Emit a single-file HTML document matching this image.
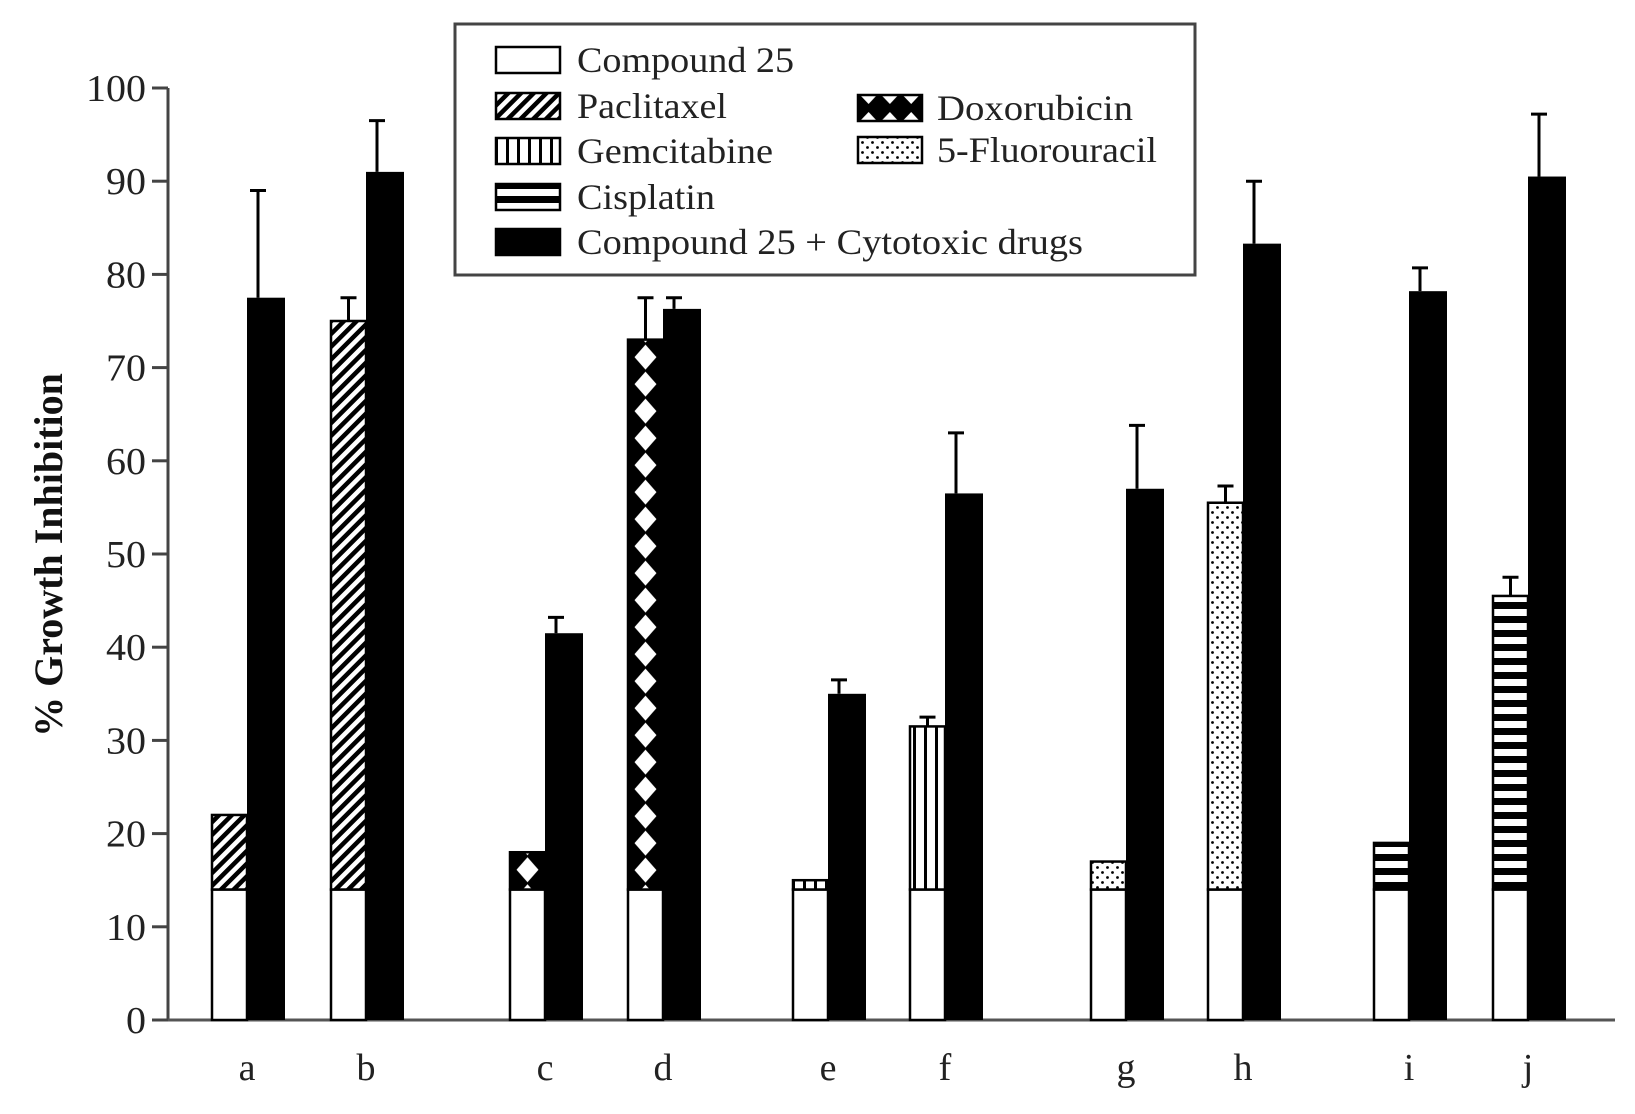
<!DOCTYPE html>
<html><head><meta charset="utf-8"><style>
html,body{margin:0;padding:0;background:#fff;}
svg{display:block;font-family:"Liberation Serif",serif;}
</style></head><body>
<svg id="chart" width="1635" height="1114" viewBox="0 0 1635 1114">
<defs id="defs">
<pattern id="pDiag" patternUnits="userSpaceOnUse" width="9" height="9" patternTransform="rotate(45)"><rect width="9" height="9" fill="#fff"/><rect width="4.5" height="9" fill="#000"/></pattern>
<pattern id="pVert" patternUnits="userSpaceOnUse" width="11" height="10"><rect width="11" height="10" fill="#fff"/><rect x="0" width="3" height="10" fill="#000"/></pattern>
<pattern id="pHorz" patternUnits="userSpaceOnUse" width="10" height="14"><rect width="10" height="14" fill="#fff"/><rect y="0" width="10" height="7" fill="#000"/></pattern>
<pattern id="pDots" patternUnits="userSpaceOnUse" width="10" height="10"><rect width="10" height="10" fill="#fff"/><circle cx="2.5" cy="2.5" r="1.4" fill="#000"/><circle cx="7.5" cy="7.5" r="1.4" fill="#000"/></pattern>
<pattern id="pDiamLeg" patternUnits="userSpaceOnUse" x="858" y="0" width="21.3" height="26"><rect width="22" height="26" fill="#000"/><path d="M10.6 8 L19 17 L10.6 26 L2 17 Z" fill="#fff"/></pattern>
</defs>
<g id="axes"></g>
<g id="bars"></g>
<g id="legend"></g>
</svg>
<script>
const categories = ["a","b","c","d","e","f","g","h","i","j"];
const compound25 = [14,14,14,14,14,14,14,14,14,14];
const drugTotal = [22,75,18,73,15,31.5,17,55.5,19,45.5];
const drugErr = [null,77.5,null,77.5,null,32.5,null,57.3,null,47.5];
const drugType = ["pDiag","pDiag","pDiam","pDiam","pVert","pVert","pDots","pDots","pHorz","pHorz"];
const combo = [77.5,91,41.5,76.3,35,56.5,57,83.3,78.2,90.5];
const comboErr = [89,96.5,43.2,77.5,36.5,63,63.8,90,80.7,97.2];
const yTicks = [0,10,20,30,40,50,60,70,80,90,100];
const groupCenters = [247,366,545,663,828,945,1126,1243,1409,1528];

const NS="http://www.w3.org/2000/svg";
const Y0=1020, Y100=88;
function y(v){return Y0-(Y0-Y100)*v/100;}
function mk(tag,attrs,parent){const e=document.createElementNS(NS,tag);for(const k in attrs)e.setAttribute(k,attrs[k]);parent.appendChild(e);return e;}
const axes=document.getElementById('axes'), bars=document.getElementById('bars'), lg=document.getElementById('legend'), defs=document.getElementById('defs');

const yAxis=mk('line',{x1:168,y1:y(100),x2:168,y2:Y0,stroke:'#444','stroke-width':3},axes);


const xAxis=mk('line',{x1:152,y1:Y0,x2:1615,y2:Y0,stroke:'#555','stroke-width':3},axes);


yTicks.forEach(t=>{
  const tk=mk('line',{x1:152,y1:y(t),x2:168,y2:y(t),stroke:'#444','stroke-width':3},axes);
  
  
  const tl=mk('text',{x:146,y:y(t)+13,'text-anchor':'end','font-size':38,fill:'#222','textLength':t>=100?60:(t>=10?40:20),'lengthAdjust':'spacingAndGlyphs'},axes);
  tl.textContent=t;
  
  
});
const yt=mk('text',{x:0,y:0,transform:'translate(62,555) rotate(-90)','text-anchor':'middle','font-size':40,'font-weight':'bold',fill:'#111'},axes);
yt.textContent='% Growth Inhibition';



categories.forEach((c,i)=>{
  const cx=groupCenters[i];
  const wx=cx-35, ww=35, bx=cx, bw=38;
  let fill='url(#'+drugType[i]+')';
  if(drugType[i]==='pDiam'){
    const p=mk('pattern',{id:'pDiam'+i,patternUnits:'userSpaceOnUse',x:wx,y:y(drugTotal[i])+4,width:ww,height:27},defs);
    mk('rect',{width:ww,height:27,fill:'#000'},p);
    mk('path',{d:`M${ww/2} 1 L${ww/2+11} 13.5 L${ww/2} 26 L${ww/2-11} 13.5 Z`,fill:'#fff'},p);
    fill='url(#pDiam'+i+')';
  }
  const w=mk('rect',{x:wx,y:y(compound25[i]),width:ww,height:Y0-y(compound25[i]),fill:'#fff',stroke:'#000','stroke-width':2.5},bars);
  
  
  const d=mk('rect',{x:wx,y:y(drugTotal[i]),width:ww,height:y(compound25[i])-y(drugTotal[i]),fill:fill,stroke:'#000','stroke-width':2.5},bars);
  
  
  if(drugErr[i]!==null){
    const e=mk('path',{d:`M${wx+ww/2} ${y(drugTotal[i])} V${y(drugErr[i])} M${wx+ww/2-8} ${y(drugErr[i])} H${wx+ww/2+8}`,stroke:'#000','stroke-width':3,fill:'none'},bars);
    
    
  }
  const b=mk('rect',{x:bx,y:y(combo[i]),width:bw,height:Y0-y(combo[i]),fill:'#000'},bars);
  
  
  const e2=mk('path',{d:`M${bx+bw/2-8} ${y(combo[i])} V${y(comboErr[i])} M${bx+bw/2-16} ${y(comboErr[i])} H${bx+bw/2}`,stroke:'#000','stroke-width':3,fill:'none'},bars);
  
  
  const xl=mk('text',{x:cx,y:1080,'text-anchor':'middle','font-size':38,fill:'#222'},bars);
  xl.textContent=c;
  
  
});

const box=mk('rect',{x:455,y:24,width:740,height:251,fill:'#fff',stroke:'#444','stroke-width':3},lg);


const entries=[
 ['Compound 25','#fff',496,60,577,217],
 ['Paclitaxel','url(#pDiag)',496,106,577,150],
 ['Gemcitabine','url(#pVert)',496,151,577,196],
 ['Cisplatin','url(#pHorz)',496,197,577,138],
 ['Compound 25 + Cytotoxic drugs','#000',496,242,577,506],
 ['Doxorubicin','url(#pDiamLeg)',858,108,937,196],
 ['5-Fluorouracil','url(#pDots)',858,150,937,220]
];
entries.forEach(en=>{
  const g=mk('g',{},lg);
  
  
  mk('rect',{x:en[2],y:en[3]-13,width:64,height:26,fill:en[1],stroke:'#000','stroke-width':2.5},g);
  const t=mk('text',{x:en[4],y:en[3]+12,'font-size':36,fill:'#222',textLength:en[5],lengthAdjust:'spacingAndGlyphs'},g);
  t.textContent=en[0];
});
</script>
</body></html>
